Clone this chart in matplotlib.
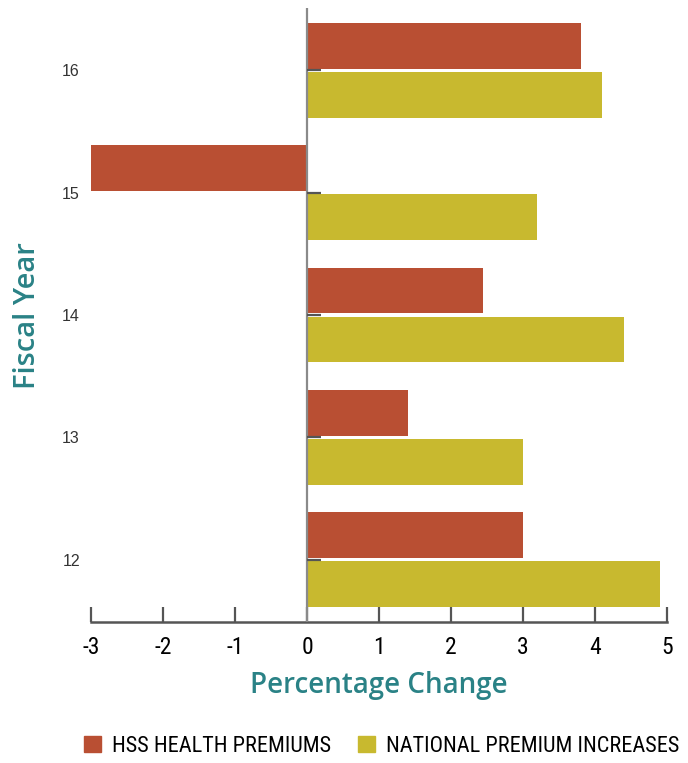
import numpy as np
import matplotlib.pyplot as plt
from matplotlib.patches import Patch

# fiscal years and percentage changes
years = ['12', '13', '14', '15', '16']
hss = [3.0, 1.4, 2.45, -3.0, 3.8]
national = [4.9, 3.0, 4.4, 3.2, 4.1]

red = '#b94f33'
gold = '#c8b92f'
teal = '#2a8286'
narrow = ['Roboto Condensed', 'DejaVu Sans']

fig = plt.figure(figsize=(6.88, 7.63), dpi=100)
ax = fig.add_axes([0.1323, 0.1848, 0.8372, 0.8047])

y = np.arange(len(years))
h = 0.375
ax.barh(y + 0.2, hss, height=h, color=red, zorder=2)
ax.barh(y - 0.2, national, height=h, color=gold, zorder=2)

# zero line with short category ticks
ax.axvline(0, color='#8a8a8a', lw=1.6, zorder=3)
ax.hlines(y, 0, 0.2, color='#555555', lw=1.6, zorder=3)

ax.set_xlim(-3, 5)
ax.set_ylim(-0.51, 4.51)
ax.set_xticks(np.arange(-3, 6))
ax.set_xticklabels([str(v) for v in range(-3, 6)], family=narrow, fontsize=17)
ax.set_yticks(y)
ax.set_yticklabels(years, family='Liberation Sans', fontsize=11.5, color='#333333')

for s in ['top', 'right', 'left']:
    ax.spines[s].set_visible(False)
ax.spines['bottom'].set_color('#555555')
ax.spines['bottom'].set_linewidth(1.8)
ax.tick_params(axis='x', direction='in', length=11, width=1.6, color='#555555', pad=10)
ax.tick_params(axis='y', length=0, pad=8)

ax.set_xlabel('Percentage Change', color=teal, fontsize=20, family='Open Sans',
              fontweight='semibold', labelpad=9)
fig.text(0.04, 0.587, 'Fiscal Year', color=teal, fontsize=21, family='Open Sans',
         fontweight='semibold', rotation=90, ha='center', va='center')

handles = [Patch(color=red, label='HSS HEALTH PREMIUMS'),
           Patch(color=gold, label='NATIONAL PREMIUM INCREASES')]
fig.legend(handles=handles, loc='center', bbox_to_anchor=(0.555, 0.022), ncol=2,
           frameon=False, prop={'family': narrow, 'size': 16},
           handlelength=0.75, handleheight=0.75, handletextpad=0.5, columnspacing=1.2)

fig.savefig('out.png', dpi=100)
